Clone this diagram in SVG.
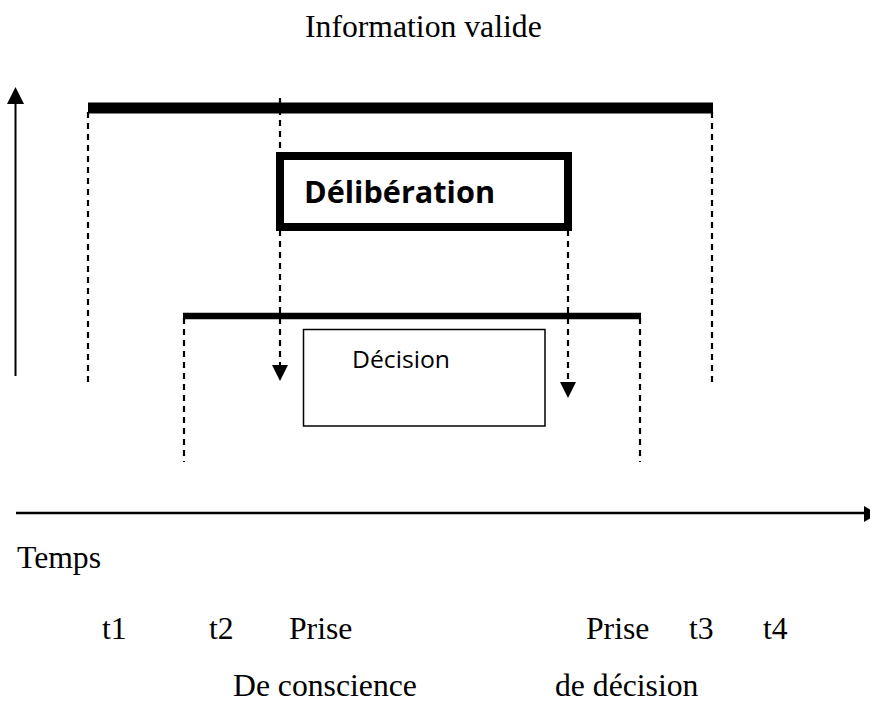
<svg xmlns="http://www.w3.org/2000/svg" width="870" height="710" viewBox="0 0 870 710">
  <style>
    .serif { font-family: "Liberation Serif", "Times New Roman", serif; font-size: 31.7px; fill: #000; }
    .sans { font-family: "Open Sans", "Liberation Sans", sans-serif; fill: #000; }
    .dash { stroke: #000; stroke-width: 2.2; stroke-dasharray: 6 5; fill: none; }
    .bar { stroke: #000; fill: none; }
    .head { fill: #000; }
  </style>
  <rect width="870" height="710" fill="#fff"/>

  <!-- axes and connectors -->
  <g id="connectors">
    <!-- vertical axis -->
    <line x1="15.5" y1="376" x2="15.5" y2="100" stroke="#000" stroke-width="2"/>
    <polygon class="head" points="15.5,87 7,104 24,104"/>
    <!-- time axis -->
    <line x1="16" y1="513" x2="866" y2="513" stroke="#000" stroke-width="2.5"/>
    <polygon class="head" points="878,514 864,506 864,522"/>

    <!-- valid-information span -->
    <line class="dash" x1="88" y1="112" x2="88" y2="384"/>
    <line class="dash" x1="712" y1="112" x2="712" y2="384"/>

    <!-- decision span -->
    <line class="dash" x1="184" y1="318" x2="184" y2="462"/>
    <line class="dash" x1="640" y1="318" x2="640" y2="462"/>

    <!-- awareness arrow -->
    <line class="dash" x1="280" y1="98" x2="280" y2="366"/>
    <polygon class="head" points="280,381 272,365 288,365"/>

    <!-- decision-taking arrow -->
    <line class="dash" x1="568" y1="230" x2="568" y2="383"/>
    <polygon class="head" points="568,398 560,382 576,382"/>
  </g>

  <g id="info-bar">
    <line class="bar" x1="88" y1="108" x2="713" y2="108" stroke-width="11"/>
    <text class="serif" x="305" y="37">Information valide</text>
  </g>

  <g id="deliberation">
    <rect x="280" y="156" width="288" height="71" fill="#fff" stroke="#000" stroke-width="8"/>
    <text class="sans" x="304" y="203" font-size="31" font-weight="bold" textLength="191" lengthAdjust="spacingAndGlyphs">Délibération</text>
  </g>

  <g id="decision-bar">
    <line class="bar" x1="183" y1="316" x2="641" y2="316" stroke-width="6.5"/>
  </g>

  <g id="decision">
    <rect x="303.5" y="329.5" width="241.5" height="96.5" fill="#fff" stroke="#000" stroke-width="1.5"/>
    <text class="sans" x="352" y="368" font-size="24" textLength="98" lengthAdjust="spacingAndGlyphs">Décision</text>
  </g>

  <g id="labels">
    <text class="serif" x="17" y="568">Temps</text>
    <text class="serif" x="102" y="639">t1</text>
    <text class="serif" x="209" y="639">t2</text>
    <text class="serif" x="289" y="639">Prise</text>
    <text class="serif" x="586" y="639">Prise</text>
    <text class="serif" x="689" y="639">t3</text>
    <text class="serif" x="763" y="639">t4</text>
    <text class="serif" x="233" y="696">De conscience</text>
    <text class="serif" x="555" y="696">de décision</text>
  </g>
</svg>
